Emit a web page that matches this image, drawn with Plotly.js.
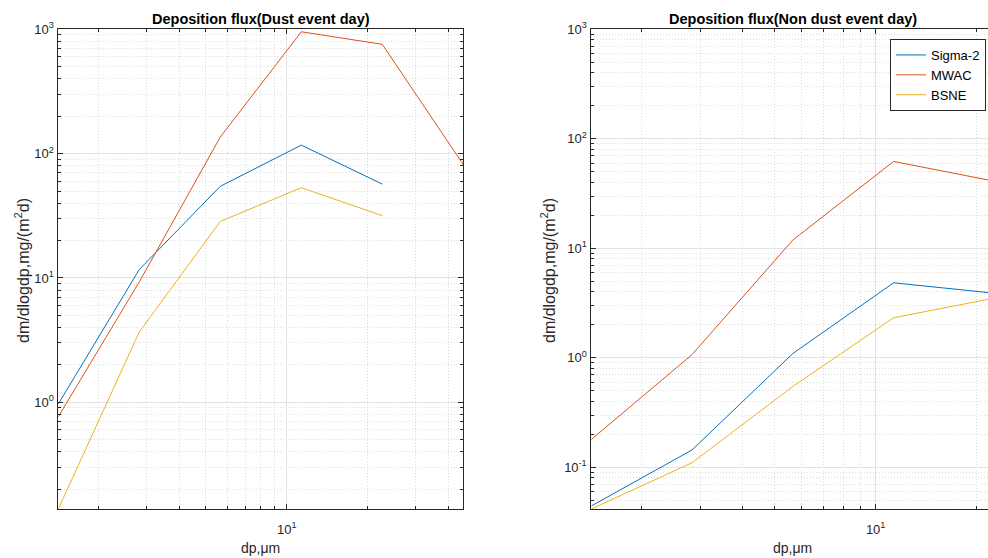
<!DOCTYPE html>
<html>
<head>
<meta charset="utf-8">
<script src="https://cdn.plot.ly/plotly-3.0.1.min.js"></script>
<style>html,body{margin:0;padding:0;background:#fff;}#chart{width:988px;height:558px;}</style>
</head>
<body>
<div id="chart"></div>
<script>
// Particle diameter (µm)
const dp = [1.4142, 2.8284, 5.6569, 11.3137, 22.6274, 45.2548];

// Dust event day
const sigma2Dust = [0.97, 11.7, 54.6, 117, 56.9, null];
const mwacDust   = [0.766, 9.3, 136, 955, 757, 81.5];
const bsneDust   = [0.1386, 3.68, 28.5, 53.2, 31.7, null];

// Non dust event day
const sigma2Non = [0.0443, 0.144, 1.094, 4.84, 3.89, null];
const mwacNon   = [0.1795, 1.07, 11.9, 62.1, 41.0, null];
const bsneNon   = [0.0416, 0.110, 0.547, 2.32, 3.51, null];

const seriesNames = ['Sigma-2', 'MWAC', 'BSNE'];
const colors = ['#0072BD', '#D95319', '#EDB120'];

const majorVals = [0.01, 0.1, 1, 10, 100, 1000];
const majorText = ['10<sup>-2</sup>', '10<sup>-1</sup>', '10<sup>0</sup>', '10<sup>1</sup>', '10<sup>2</sup>', '10<sup>3</sup>'];

const FONT = 'Liberation Sans, Arial, Helvetica, sans-serif';
const AX = '#262626';

function mk(y, i, xa, ya, show) {
  return {x: dp, y: y, type: 'scatter', mode: 'lines', name: seriesNames[i],
    xaxis: xa, yaxis: ya, showlegend: show, connectgaps: false,
    line: {color: colors[i], width: 1}};
}

const data = [
  mk(sigma2Dust, 0, 'x', 'y', false),
  mk(mwacDust, 1, 'x', 'y', false),
  mk(bsneDust, 2, 'x', 'y', false),
  mk(sigma2Non, 0, 'x2', 'y2', true),
  mk(mwacNon, 1, 'x2', 'y2', true),
  mk(bsneNon, 2, 'x2', 'y2', true)
];

const W = 988, H = 558;
const minor = {ticks: 'inside', ticklen: 3, tickcolor: AX, showgrid: true,
  griddash: '1px,2px', gridcolor: '#dcdcdc', gridwidth: 1, dtick: 'D1'};

function xax(domain, range, anchor, mirror) {
  return {type: 'log', domain: domain, range: range, anchor: anchor,
    tickmode: 'array', tickvals: majorVals, ticktext: majorText,
    ticks: 'inside', ticklen: 5, tickcolor: AX, showline: true, linecolor: AX, linewidth: 1,
    mirror: mirror, showgrid: true, gridcolor: '#e2e2e2', gridwidth: 1,
    minor: minor, zeroline: false, ticklabelstandoff: 8,
    tickfont: {family: FONT, size: 13, color: AX}};
}
function yax(domain, range, anchor, mirror) {
  return {type: 'log', domain: domain, range: range, anchor: anchor,
    tickmode: 'array', tickvals: majorVals, ticktext: majorText,
    ticks: 'inside', ticklen: 5, tickcolor: AX, showline: true, linecolor: AX, linewidth: 1,
    mirror: mirror, showgrid: true, gridcolor: '#e2e2e2', gridwidth: 1,
    minor: minor, zeroline: false, ticklabelstandoff: 1,
    tickfont: {family: FONT, size: 13, color: AX}};
}

const yDom = [1 - 509 / H, 1 - 29.3 / H];
const lx = [58.3 / W, 463.3 / W];
const rx = [591.3 / W, 1];

const layout = {
  width: W, height: H,
  margin: {l: 0, r: 0, t: 0, b: 0},
  paper_bgcolor: '#ffffff', plot_bgcolor: '#ffffff',
  font: {family: FONT, color: AX},
  xaxis: xax(lx, [Math.log10(1.4142), Math.log10(45.2548)], 'y', 'ticks'),
  yaxis: yax(yDom, [Math.log10(0.1386), 3], 'x', 'ticks'),
  xaxis2: xax(rx, [Math.log10(1.4142), Math.log10(21.66)], 'y2', 'ticks'),
  yaxis2: yax(yDom, [Math.log10(0.0416), 3], 'x2', false),
  legend: {x: 986 / W, xanchor: 'right', y: 1 - 39 / H, yanchor: 'top',
    bgcolor: '#ffffff', bordercolor: AX, borderwidth: 1,
    font: {family: FONT, size: 13, color: '#000'}, tracegroupgap: 0},
  annotations: [
    {text: '<b>Deposition flux(Dust event day)</b>', xref: 'paper', yref: 'paper',
     x: 260.8 / W, y: 1 - 18.5 / H, xanchor: 'center', yanchor: 'middle', showarrow: false,
     font: {family: FONT, size: 14.5, color: '#000'}},
    {text: '<b>Deposition flux(Non dust event day)</b>', xref: 'paper', yref: 'paper',
     x: 793 / W, y: 1 - 18.5 / H, xanchor: 'center', yanchor: 'middle', showarrow: false,
     font: {family: FONT, size: 14.5, color: '#000'}},
    {text: 'dp,μm', xref: 'paper', yref: 'paper', x: 260.8 / W, y: 1 - 548 / H,
     xanchor: 'center', yanchor: 'middle', showarrow: false,
     font: {family: FONT, size: 14, color: AX}},
    {text: 'dp,μm', xref: 'paper', yref: 'paper', x: 792.7 / W, y: 1 - 548 / H,
     xanchor: 'center', yanchor: 'middle', showarrow: false,
     font: {family: FONT, size: 14, color: AX}},
    {text: 'dm/dlogdp,mg/(m<sup>2</sup>d)', xref: 'paper', yref: 'paper', x: 22 / W, y: 1 - 271 / H,
     xanchor: 'center', yanchor: 'middle', showarrow: false, textangle: -90,
     font: {family: FONT, size: 16, color: AX}},
    {text: 'dm/dlogdp,mg/(m<sup>2</sup>d)', xref: 'paper', yref: 'paper', x: 548 / W, y: 1 - 271 / H,
     xanchor: 'center', yanchor: 'middle', showarrow: false, textangle: -90,
     font: {family: FONT, size: 16, color: AX}}
  ]
};

Plotly.newPlot('chart', data, layout, {staticPlot: true, displayModeBar: false});
</script>
</body>
</html>
